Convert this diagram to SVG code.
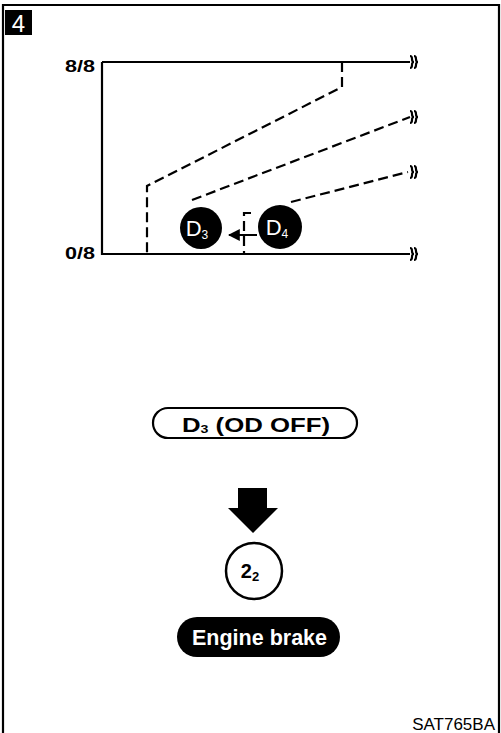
<svg xmlns="http://www.w3.org/2000/svg" width="501" height="733" viewBox="0 0 501 733">
<style>
.ax{fill:none;stroke:#000;stroke-width:2.2}
.ds{fill:none;stroke:#000;stroke-width:2.2;stroke-dasharray:10 5}
.sq{fill:none;stroke:#000;stroke-width:2.2}
.lbl{font-family:"Liberation Sans",Arial,sans-serif;font-weight:bold;fill:#000}
.wt{font-family:"Liberation Sans",Arial,sans-serif;fill:#fff}
</style>
<defs>
<marker id="ah" viewBox="0 0 10 10" refX="9" refY="5" markerWidth="6" markerHeight="6" orient="auto">
<path d="M0,0 L10,5 L0,10 z" fill="#000"/>
</marker>
<path id="sqg" d="M-2,-6 C2,-6 -2,0 2,0 C-2,0 2,6 -2,6 M2,-6 C6,-6 2,0 6,0 C2,0 6,6 2,6"/>
</defs>
<g id="frame">
<path class="ax" d="M3,733 V5 H499 V733"/>
</g>
<g id="badge">
<rect x="5" y="10" width="27" height="25" fill="#000"/>
<text x="18.5" y="32" class="wt" font-size="24" text-anchor="middle">4</text>
</g>
<g id="axes">
<path class="ax" d="M102,62 V254 H410 M102,62 H410"/>
<text x="65" y="72" class="lbl" font-size="17" textLength="30" lengthAdjust="spacingAndGlyphs">8/8</text>
<text x="65" y="259" class="lbl" font-size="17" textLength="30" lengthAdjust="spacingAndGlyphs">0/8</text>
</g>
<g id="connectors">
<path class="ds" d="M342,62 V87 L147,186 V254"/>
<path class="ds" d="M192,200 L410,117"/>
<path class="ds" d="M291,202 L408,172"/>
<path class="ds" d="M251,213 H244 V254"/>
<line x1="257" y1="235" x2="229" y2="235" stroke="#000" stroke-width="2" marker-end="url(#ah)"/>
<g class="sq">
<use href="#sqg" x="412" y="62"/>
<use href="#sqg" x="412" y="117"/>
<use href="#sqg" x="412" y="172"/>
<use href="#sqg" x="412" y="254"/>
</g>
</g>
<g id="d3">
<circle cx="201" cy="228" r="21" fill="#000"/>
<text x="197" y="236" class="wt" font-size="22" text-anchor="middle">D<tspan font-size="12" dy="3">3</tspan></text>
</g>
<g id="d4">
<circle cx="280" cy="227" r="22" fill="#000"/>
<text x="277" y="235" class="wt" font-size="22" text-anchor="middle">D<tspan font-size="12" dy="3">4</tspan></text>
</g>
<g id="mode">
<rect x="153" y="408" width="204" height="30" rx="15" fill="#fff" stroke="#000" stroke-width="2.2"/>
<text x="182" y="432" class="lbl" font-size="20" textLength="148" lengthAdjust="spacingAndGlyphs">D<tspan font-size="11" dy="1">3</tspan><tspan dy="-1"> (OD OFF)</tspan></text>
</g>
<g id="arrow">
<polygon points="238,488 267,488 267,508 278,508 253,533 228,508 238,508" fill="#000"/>
</g>
<g id="gear">
<circle cx="254" cy="571" r="28" fill="#fff" stroke="#000" stroke-width="2.5"/>
<text x="250" y="578" class="lbl" font-size="20" text-anchor="middle">2<tspan font-size="13" dy="3">2</tspan></text>
</g>
<g id="engine-brake">
<rect x="177" y="617" width="163" height="40" rx="20" fill="#000"/>
<text x="192" y="645" class="wt" font-size="22" font-weight="bold" textLength="135" lengthAdjust="spacingAndGlyphs">Engine brake</text>
</g>
<text x="495" y="730" font-family="'Liberation Sans',Arial,sans-serif" font-size="17" text-anchor="end" fill="#000">SAT765BA</text>
</svg>
